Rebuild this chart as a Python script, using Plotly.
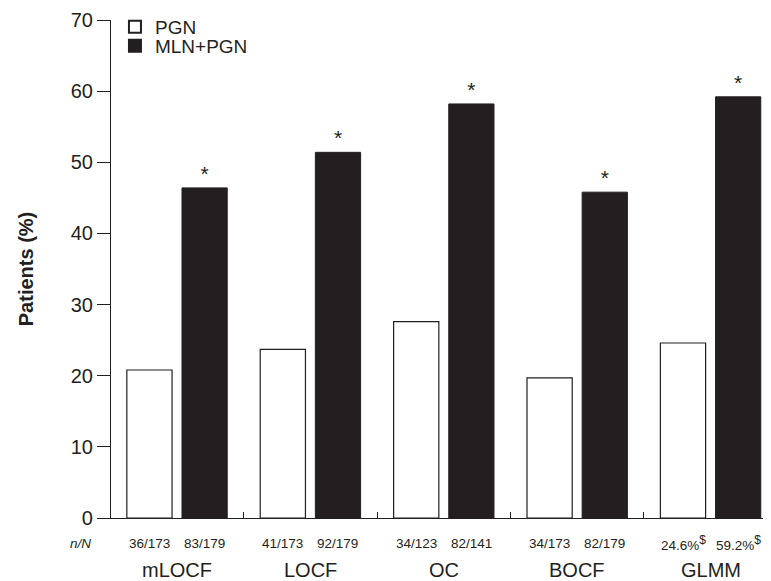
import plotly.graph_objects as go

groups = ["mLOCF", "LOCF", "OC", "BOCF", "GLMM"]
pgn_values = [20.8, 23.7, 27.6, 19.7, 24.6]
mln_values = [46.4, 51.4, 58.2, 45.8, 59.2]
pgn_labels = ["36/173", "41/173", "34/123", "34/173",
              "24.6%<sup><span style='font-size:12px'>$</span></sup>"]
mln_labels = ["83/179", "92/179", "82/141", "82/179",
              "59.2%<sup><span style='font-size:12px'>$</span></sup>"]
significance = ["*", "*", "*", "*", "*"]
y_ticks = [0, 10, 20, 30, 40, 50, 60, 70]

FONT = "Liberation Sans, Arial, sans-serif"
TXT = "#231f20"
xs = list(range(len(groups)))

fig = go.Figure()
fig.add_trace(go.Bar(
    x=xs, y=pgn_values, name="PGN", legend="legend",
    marker=dict(color="white", line=dict(color=TXT, width=1.2)),
))
fig.add_trace(go.Bar(
    x=xs, y=mln_values, name="MLN+PGN", legend="legend2",
    marker=dict(color=TXT, line=dict(color=TXT, width=1)),
    text=significance, textposition="outside",
    textfont=dict(size=21, color=TXT, family=FONT), cliponaxis=False,
))

annotations = []
off = 0.206
for i, g in enumerate(groups):
    annotations.append(dict(x=i, y=-0.1036, xref="x", yref="paper", text=g,
                            xanchor="center", yanchor="middle",
                            showarrow=False, font=dict(size=20, color=TXT, family=FONT)))
    annotations.append(dict(x=i - off, y=-0.0505, xref="x", yref="paper", text=pgn_labels[i],
                            xanchor="center", yanchor="middle",
                            showarrow=False, font=dict(size=13.5, color=TXT, family=FONT)))
    annotations.append(dict(x=i + off, y=-0.0505, xref="x", yref="paper", text=mln_labels[i],
                            xanchor="center", yanchor="middle",
                            showarrow=False, font=dict(size=13.5, color=TXT, family=FONT)))
annotations.append(dict(x=-0.027, xanchor="right", y=-0.0515, yanchor="middle",
                        xref="paper", yref="paper",
                        text="<i>n/N</i>", showarrow=False,
                        font=dict(size=13.5, color=TXT, family=FONT)))

leg_common = dict(xanchor="left", yanchor="middle", x=0.006,
                  font=dict(size=19, color=TXT, family=FONT),
                  bgcolor="rgba(0,0,0,0)", itemsizing="constant")

# page body has an 8px margin: figure is sized to fit the 771x581 window
fig.update_layout(
    width=763, height=573,
    margin=dict(l=103, r=0, t=11, b=63),
    plot_bgcolor="white", paper_bgcolor="white",
    barmode="group", bargap=0.173, bargroupgap=0.18,
    font=dict(family=FONT, color=TXT),
    showlegend=True,
    legend=dict(y=0.985, **leg_common),
    legend2=dict(y=0.946, **leg_common),
    xaxis=dict(range=[-0.495, 4.453], showline=True, linecolor=TXT, linewidth=1.2,
               tickvals=[0.5, 1.5, 2.5, 3.5], ticktext=["", "", "", ""],
               ticks="inside", ticklen=6, tickcolor=TXT, tickwidth=1,
               showgrid=False, zeroline=False, automargin=False),
    yaxis=dict(range=[0, 70], tickvals=y_ticks, showline=True, linecolor=TXT, linewidth=1.2,
               ticks="outside", ticklen=13, tickcolor=TXT, tickwidth=1,
               tickfont=dict(size=20, color=TXT, family=FONT),
               showgrid=False, zeroline=False, automargin=False,
               title=dict(text="<b>Patients (%)</b>", font=dict(size=20, color=TXT, family=FONT),
                          standoff=31)),
    annotations=annotations,
)

fig.write_html("out.html")
